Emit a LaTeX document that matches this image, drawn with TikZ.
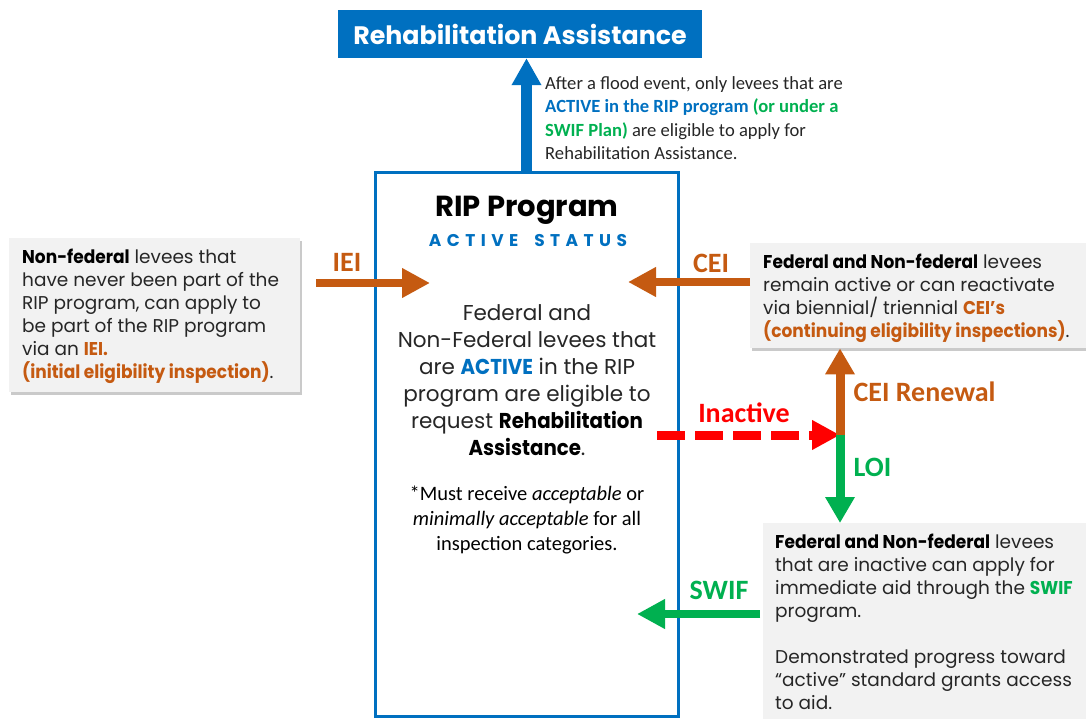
\documentclass[tikz,border=0pt]{standalone}
\usepackage{fontspec}
\setmainfont{Poppins}
\newfontfamily\calibrifont{Carlito}
\newfontfamily\spacedfont{Poppins}[LetterSpace=32]
\newfontfamily\narrowfont{Poppins}[FakeStretch=0.92]
\newcommand{\nb}[1]{{\narrowfont\bfseries #1}}
\usetikzlibrary{arrows.meta,shadows}
\definecolor{rblue}{HTML}{0070C0}
\definecolor{rorange}{HTML}{C55A11}
\definecolor{rgreen}{HTML}{00B050}
\definecolor{rred}{HTML}{FF0000}
\definecolor{rgray}{HTML}{F2F2F2}
\definecolor{rtext}{HTML}{262626}
\begin{document}
\begin{tikzpicture}[x=1pt,y=-1pt,
  graybox/.style={fill=rgray, anchor=north west, inner sep=0pt,
    drop shadow={shadow xshift=2pt,shadow yshift=-2.5pt,opacity=0.35,fill=black!60}},
  bodytext/.style={font=\fontsize{18.5}{23}\selectfont, text=rtext, anchor=west, align=left, inner sep=0pt},
  fat/.style={line width=8pt, -{Triangle[width=28pt,length=28pt]}},
  vfat/.style={line width=9pt, -{Triangle[width=28pt,length=26pt]}},
  lab/.style={font=\calibrifont\bfseries\fontsize{28}{32}\selectfont}
]
\useasboundingbox (0,0) rectangle (1086,719);
\clip (0,0) rectangle (1086,719);

% title box
\node[fill=rblue, minimum width=364pt, minimum height=48pt, inner sep=0pt, text=white,
  font=\bfseries\fontsize{25.3}{30}\selectfont] (rehab) at (520,34) {Rehabilitation Assistance};

% note
\node[anchor=west, align=left, inner sep=0pt, text=rtext, font=\calibrifont\fontsize{18.6}{23.3}\selectfont] (note) at (545,118)
 {After a flood event, only levees that are\\
  {\bfseries\color{rblue}ACTIVE in the RIP program} {\bfseries\color{rgreen}(or under a}\\
  {\bfseries\color{rgreen}SWIF Plan)} are eligible to apply for\\
  Rehabilitation Assistance.};

% RIP box
\node[draw=rblue, line width=3pt, fill=white, minimum width=303pt, minimum height=543pt, inner sep=0pt,
  drop shadow={shadow xshift=2pt,shadow yshift=-2pt,opacity=0.3,fill=black!60}] (rip) at (526.5,444.5) {};
\node[font=\bfseries\fontsize{29}{36}\selectfont, text=black] (riptitle) at (527,210) {RIP Program};
\node[font=\spacedfont\bfseries\fontsize{17}{20}\selectfont, text=rblue] (status) at (528,241) {ACTIVE\hspace{16pt}STATUS};
\node[align=center, text=rtext, font=\fontsize{21.5}{27}\selectfont, inner sep=0pt] (ripbody) at (527,380)
 {Federal and\\
  Non-Federal levees that\\
  are \nb{\color{rblue}ACTIVE} in the RIP\\
  program are eligible to\\
  request \nb{\color{black}Rehabilitation}\\
  \nb{\color{black}Assistance}.};
\node[align=center, text=black, font=\calibrifont\fontsize{20.5}{25}\selectfont, inner sep=0pt] (ripnote) at (527,520)
 {*Must receive \textit{acceptable} or\\
  \textit{minimally acceptable} for all\\
  inspection categories.};

% left box
\node[graybox, minimum width=291pt, minimum height=154pt] (leftbox) at (9,238) {};
\node[bodytext] (lefttext) at (22,316)
 {\nb{\color{black}Non-federal} levees that\\
  have never been part of the\\
  RIP program, can apply to\\
  be part of the RIP program\\
  via an \nb{\color{rorange}IEI.}\\
  \nb{\color{rorange}(initial eligibility inspection)}.};

% right top box
\node[graybox, minimum width=345pt, minimum height=105pt] (cebox) at (750,243) {};
\node[bodytext] (cetext) at (763,298)
 {\nb{\color{black}Federal and Non-federal} levees\\
  remain active or can reactivate\\
  via biennial/ triennial \nb{\color{rorange}CEI’s}\\
  \nb{\color{rorange}(continuing eligibility inspections)}.};

% bottom right box
\node[graybox, minimum width=335pt, minimum height=205pt] (swifbox) at (763,523) {};
\node[bodytext] (swiftext) at (775,622)
 {\nb{\color{black}Federal and Non-federal} levees\\
  that are inactive can apply for\\
  immediate aid through the \nb{\color{rgreen}SWIF}\\
  program.\\[23pt]
  Demonstrated progress toward\\
  “active” standard grants access\\
  to aid.};

% arrows
\draw[rblue, line width=11pt, -{Triangle[width=28pt,length=27pt]}] (rip.north) -- (rip.north |- rehab.south);

\coordinate (ieiS) at (316,283);
\coordinate (ieiE) at (430,283);
\draw[rorange, fat] (ieiS) -- (ieiE);
\node[lab, text=rorange] (ieilab) at (347,262) {IEI};

\coordinate (ceiS) at (750,282);
\coordinate (ceiE) at (628,282);
\draw[rorange, fat] (ceiS) -- (ceiE);
\node[lab, text=rorange] (ceilab) at (711,263) {CEI};

\coordinate (j) at (840,435);
\coordinate (inS) at (657,435);
\draw[rred, line width=9pt, dash pattern=on 28pt off 10pt, -{Triangle[width=28pt,length=28pt]}] (inS) -- (j);
\node[lab, text=rred] (inlab) at (744,413) {Inactive};

\draw[rorange, vfat] (j) -- (j |- cebox.south);
\node[lab, text=rorange, anchor=west] (renlab) at (850,392) {CEI Renewal};
\draw[rgreen, vfat] (j) -- (j |- swifbox.north);
\node[lab, text=rgreen, anchor=west] (loilab) at (850,467) {LOI};

\coordinate (swS) at (760,614);
\coordinate (swE) at (637,614);
\draw[rgreen, fat] (swS) -- (swE);
\node[lab, text=rgreen] (swlab) at (719,590) {SWIF};
\end{tikzpicture}
\end{document}
